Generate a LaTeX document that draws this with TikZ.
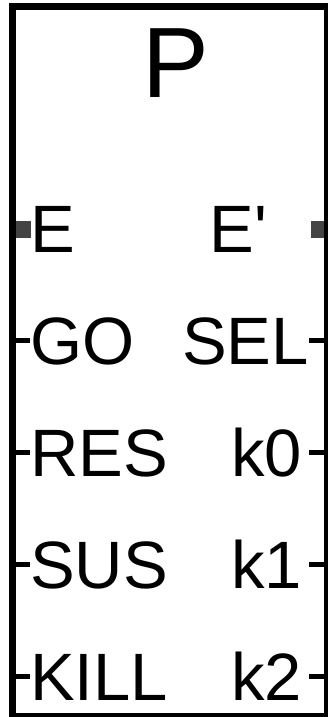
\documentclass[tikz,border=0pt]{standalone}
\usepackage{fontspec}
\setmainfont{Liberation Sans}
\usepackage{tikz}
\usetikzlibrary{positioning}
\definecolor{pingray}{HTML}{444444}

\begin{document}
\begin{tikzpicture}[x=1pt,y=-1pt,
  blk/.style={draw=black,line width=7pt,fill=white,inner sep=0pt,minimum width=315pt,minimum height=710pt},
  ttl/.style={anchor=base west,inner sep=0pt,font=\fontsize{100}{110}\selectfont},
  lport/.style={anchor=base west,inner sep=0pt,font=\fontsize{67}{75}\selectfont},
  rport/.style={anchor=base east,inner sep=0pt,font=\fontsize{67}{75}\selectfont},
  pad/.style={fill=pingray,inner sep=0pt,minimum height=17pt},
  stub/.style={draw=black,line width=5pt}]
\useasboundingbox (0,0) rectangle (328,717);
% block
\node[blk] (box) at (170,361.5) {};
\node[ttl] (name) at (142,97) {P};
% event pads
\node[pad,minimum width=15pt] (epad) at (23.5,229.5) {};
\node[pad,minimum width=13pt] (eopad) at (317.5,229.5) {};
\node[lport] (e) at (30,252) {E};
\node[lport] (eo) at (209.5,252) {E\textquotesingle};
% left ports
\foreach \lab/\nm/\yy in {GO/go/364,RES/res/476,SUS/sus/588,KILL/kill/700}{
  \node[lport] (\nm) at (30,\yy) {\lab};
  \coordinate (\nm-pin) at (16,\yy-24);
  \draw[stub] (\nm-pin) -- (\nm-pin -| \nm.west);
}
% right ports
\foreach \lab/\nm/\yy/\xx in {SEL/sel/364/309,k0/kz/476/302,k1/ko/588/302,k2/kt/700/302}{
  \node[rport] (\nm) at (\xx,\yy) {\lab};
  \coordinate (\nm-pin) at (324,\yy-24);
  \coordinate (\nm-end) at (309,\yy-24);
  \draw[stub] (\nm-end) -- (\nm-pin);
}
\end{tikzpicture}
\end{document}
